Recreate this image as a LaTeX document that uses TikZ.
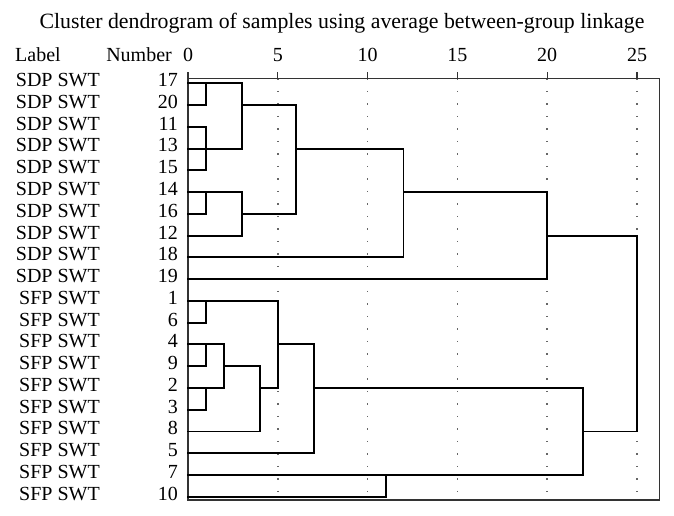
\documentclass[tikz,border=0pt]{standalone}
\usepackage{fontspec}
\setmainfont{Liberation Serif}
\begin{document}
\begin{tikzpicture}[x=1pt,y=-1pt,
  txt/.style={inner sep=0pt,font=\fontsize{20}{24}\selectfont},
  link/.style={line width=1.9pt,black,line cap=rect},
  frame/.style={line width=1.3pt,black!80},
  grid/.style={line width=1.6pt,black!60,dash pattern=on 1.6pt off 10.9pt},
  tickmark/.style={line width=1.3pt,black!80}]
\useasboundingbox (0,0) rectangle (674,515);
\node[txt,anchor=base,font=\fontsize{21.8}{26}\selectfont] (title) at (342,28) {Cluster dendrogram of samples using average between-group linkage};
\node[txt,anchor=base west] (hlabel) at (15,61.7) {Label};
\node[txt,anchor=base east] (hnumber) at (172,61.7) {Number};
\begin{scope}[shift={(188pt,-83.3pt)},x=17.96pt,y=-21.76pt]
  % grid and frame
  \foreach \v in {5,10,15,20,25} {
    \draw[grid] (\v,-0.23) -- (\v,19.15);
  }
  \draw[frame] (0,-0.23) -- (26.24,-0.23) -- (26.24,19.15) -- (0,19.15) -- cycle;
  \foreach \v in {0,5,10,15,20,25} {
    \coordinate (t\v) at (\v,-0.23);
    \draw[tickmark] (t\v) -- ++(0,-0.31);
    \node[txt,anchor=base] (ax\v) at ([yshift=16.6pt]t\v) {\v};
  }
  % leaves
  \foreach \n [count=\r from 0] in {17,20,11,13,15,14,16,12,18,19,1,6,4,9,2,3,8,5,7,10} {
    \coordinate (p\n) at (0,\r);
    \node[txt,anchor=base east] (num\n) at ([xshift=-10pt,yshift=-3.4pt]p\n) {\n};
    \node[txt,anchor=base east] (lab\n) at ([xshift=-88pt,yshift=-3.4pt]p\n) {\ifnum\r<10 SDP\else SFP\fi{} SWT};
  }
  % upper cluster
  \draw[link] (p17) -- (3,0);
  \draw[link] (p20) -| (1,0);
  \draw[link] (3,0) -- (3,3);
  \draw[link] (3,1) -- (6,1);
  \draw[link] (p11) -| (1,4) -- (p15);
  \draw[link] (p13) -- (3,3);
  \draw[link] (6,1) -- (6,6);
  \draw[link] (6,3) -- (12,3);
  \draw[link] (p14) -- (3,5);
  \draw[link] (p16) -| (1,5);
  \draw[link] (3,5) -- (3,7);
  \draw[link] (3,6) -- (6,6);
  \draw[link] (p12) -- (3,7);
  \draw[link] (p18) -| (12,3);
  \draw[link] (12,5) -- (20,5);
  \draw[link] (p19) -| (20,5);
  \draw[link] (20,7) -- (25,7) -- (25,16) -- (22,16);
  % lower cluster
  \draw[link] (p1) -| (5,14);
  \draw[link] (p6) -| (1,10);
  \draw[link] (p4) -- (2,12) -- (2,14);
  \draw[link] (p9) -| (1,12);
  \draw[link] (p2) -- (2,14);
  \draw[link] (p3) -| (1,14);
  \draw[link] (2,13) -- (4,13) -- (4,16);
  \draw[link] (p8) -- (4,16);
  \draw[link] (4,14) -- (5,14);
  \draw[link] (5,12) -- (7,12) -- (7,17);
  \draw[link] (p5) -- (7,17);
  \draw[link] (7,14) -- (22,14) -- (22,18);
  \draw[link] (p7) -- (22,18);
  \draw[link] (p10) -| (11,18);
\end{scope}
\end{tikzpicture}
\end{document}
